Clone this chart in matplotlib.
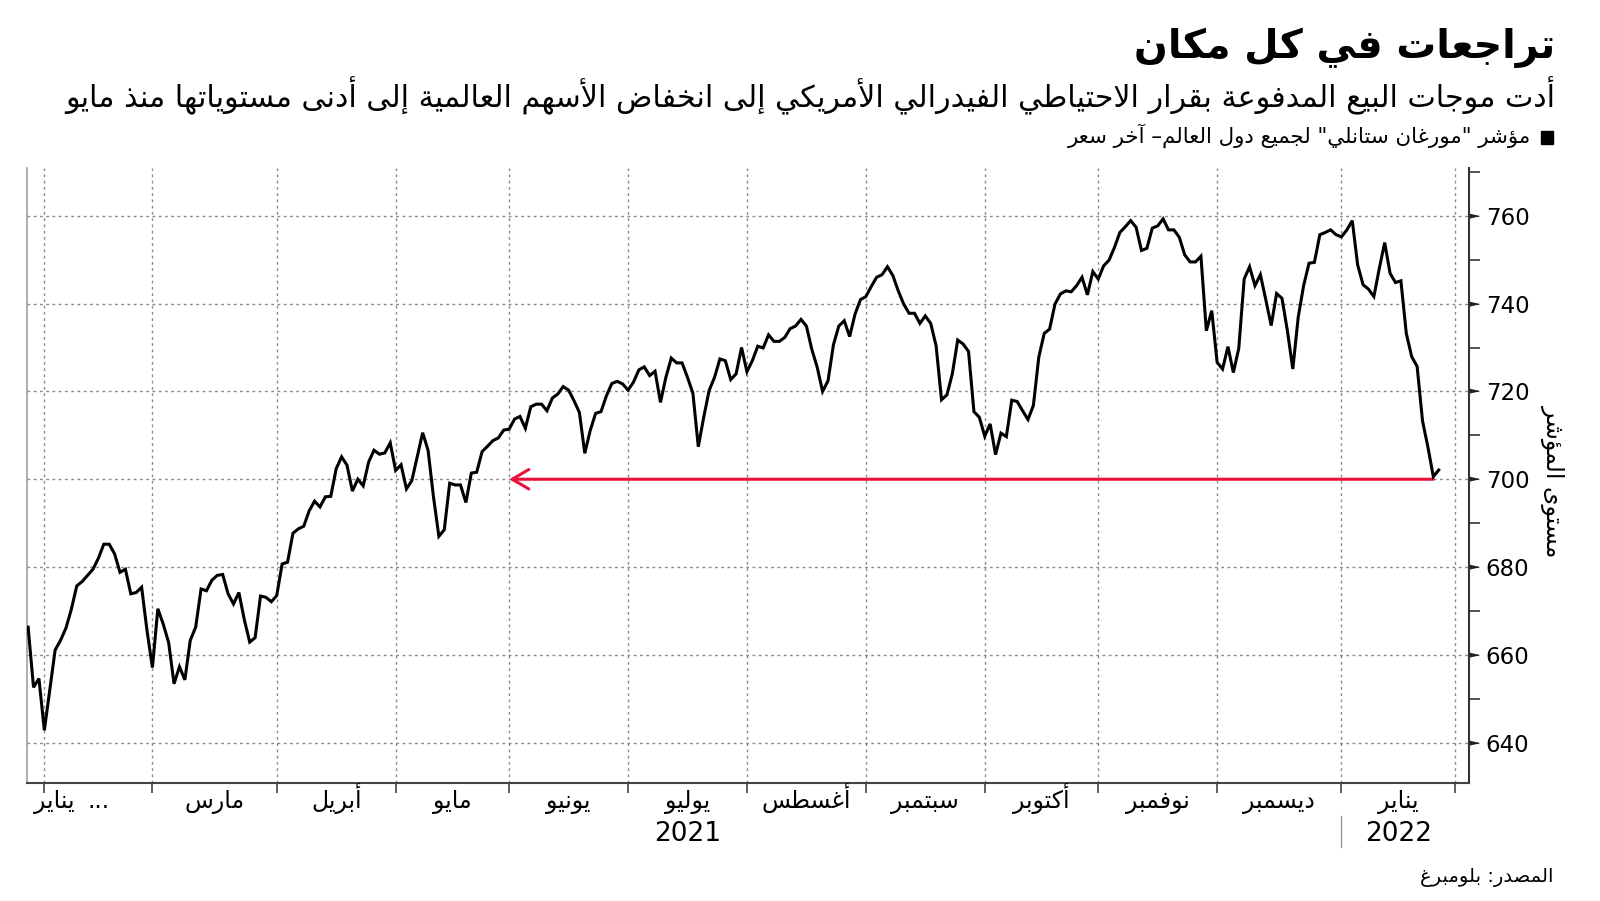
import numpy as np
import pandas as pd
import matplotlib
matplotlib.use("Agg")
import matplotlib.pyplot as plt
from matplotlib.patches import Rectangle
from matplotlib.lines import Line2D

# ---- data -------------------------------------------------------------
# MSCI All Country World index, daily close (business days from first_day)
first_day = "2021-01-27"
index_level = [
    666.3, 652.6, 654.6, 642.8, 652.0, 661.1, 663.3, 666.1, 670.4, 675.7,
    676.7, 678.1, 679.5, 682.0, 685.2, 685.2, 683.0, 678.8, 679.5, 673.9,
    674.2, 675.4, 665.5, 657.1, 670.5, 667.0, 662.8, 653.4, 657.3, 654.3,
    663.3, 666.3, 675.0, 674.6, 677.0, 678.1, 678.3, 673.9, 671.6, 674.2,
    668.0, 662.9, 663.9, 673.4, 673.1, 672.1, 673.5, 680.7, 681.1, 687.7,
    688.7, 689.3, 692.8, 695.0, 693.7, 696.0, 696.1, 702.4, 705.1, 703.2,
    697.3, 700.0, 698.5, 703.9, 706.6, 705.7, 706.0, 708.3, 702.0, 703.3,
    697.8, 699.7, 705.1, 710.6, 706.6, 696.0, 687.0, 688.5, 699.1, 698.7,
    698.7, 694.7, 701.4, 701.6, 706.3, 707.5, 708.8, 709.4, 711.2, 711.4,
    713.7, 714.3, 711.6, 716.5, 717.1, 717.1, 715.6, 718.5, 719.4, 721.1,
    720.3, 717.9, 715.2, 705.9, 711.1, 715.0, 715.4, 719.0, 721.8, 722.3,
    721.7, 720.3, 722.1, 724.9, 725.6, 723.6, 724.6, 717.5, 723.2, 727.6,
    726.5, 726.5, 723.2, 719.6, 707.4, 714.1, 720.2, 723.2, 727.4, 727.0,
    722.7, 724.0, 730.0, 724.5, 727.0, 730.3, 729.9, 732.9, 731.4, 731.4,
    732.3, 734.3, 734.9, 736.4, 734.9, 729.6, 725.5, 720.0, 722.4, 730.6,
    734.9, 736.1, 732.5, 737.6, 740.9, 741.6, 743.9, 746.0, 746.6, 748.4,
    746.4, 742.9, 739.9, 737.8, 737.8, 735.5, 737.2, 735.5, 730.4, 718.1,
    719.2, 724.0, 731.7, 730.8, 729.1, 715.4, 714.1, 709.8, 712.6, 705.6,
    710.5, 709.7, 718.0, 717.7, 715.6, 713.6, 716.8, 727.8, 733.2, 734.2,
    739.9, 742.2, 742.9, 742.7, 744.1, 746.0, 742.0, 747.3, 745.6, 748.6,
    749.9, 752.8, 756.2, 757.5, 758.9, 757.4, 752.1, 752.6, 757.2, 757.7,
    759.3, 756.8, 756.8, 755.1, 751.1, 749.5, 749.5, 750.8, 733.8, 738.4,
    726.6, 725.1, 730.2, 724.3, 729.8, 745.6, 748.4, 744.1, 746.6, 740.9,
    735.0, 742.3, 741.2, 733.8, 725.1, 736.9, 744.1, 749.2, 749.4, 755.7,
    756.2, 756.8, 755.7, 755.2, 756.8, 758.9, 748.8, 744.3, 743.3, 741.6,
    748.0, 753.9, 746.9, 744.8, 745.2, 733.2, 727.9, 725.7, 713.3, 707.3,
    700.6, 702.1,
]

month_starts = ["2021-02-01", "2021-03-01", "2021-04-01", "2021-05-01", "2021-06-01",
                "2021-07-01", "2021-08-01", "2021-09-01", "2021-10-01", "2021-11-01",
                "2021-12-01", "2022-01-01", "2022-02-01"]
month_labels = ["يناير", "...", "مارس", "أبريل", "مايو", "يونيو", "يوليو",
                "أغسطس", "سبتمبر", "أكتوبر", "نوفمبر", "ديسمبر", "يناير"]
year_labels = {"2021": "2021-07-01", "2022": "2022-01-01"}
y_ticks = [640, 660, 680, 700, 720, 740, 760]
y_minor = [650, 670, 690, 710, 730, 750, 770]

# arrow: back from the latest low to where the index last stood there
arrow_level = 700
arrow_back_to = "2021-06-01"

title = "تراجعات في كل مكان"
subtitle = ("أدت موجات البيع المدفوعة بقرار الاحتياطي الفيدرالي الأمريكي "
            "إلى انخفاض الأسهم العالمية إلى أدنى مستوياتها منذ مايو")
legend_text = 'مؤشر "مورغان ستانلي" لجميع دول العالم– آخر سعر'
y_label = "مستوى المؤشر"
source = "المصدر: بلومبرغ"

# ---- arabic shaping (matplotlib draws glyphs left to right, unshaped) --
ISO = {'ء': 0xFE80, 'آ': 0xFE81, 'أ': 0xFE83, 'ؤ': 0xFE85, 'إ': 0xFE87, 'ئ': 0xFE89,
       'ا': 0xFE8D, 'ب': 0xFE8F, 'ة': 0xFE93, 'ت': 0xFE95, 'ث': 0xFE99, 'ج': 0xFE9D,
       'ح': 0xFEA1, 'خ': 0xFEA5, 'د': 0xFEA9, 'ذ': 0xFEAB, 'ر': 0xFEAD, 'ز': 0xFEAF,
       'س': 0xFEB1, 'ش': 0xFEB5, 'ص': 0xFEB9, 'ض': 0xFEBD, 'ط': 0xFEC1, 'ظ': 0xFEC5,
       'ع': 0xFEC9, 'غ': 0xFECD, 'ف': 0xFED1, 'ق': 0xFED5, 'ك': 0xFED9, 'ل': 0xFEDD,
       'م': 0xFEE1, 'ن': 0xFEE5, 'ه': 0xFEE9, 'و': 0xFEED, 'ى': 0xFEEF, 'ي': 0xFEF1}
RIGHT_ONLY = set('آأؤإادذرزةوى')
LAM_ALEF = {'آ': 0xFEF5, 'أ': 0xFEF7, 'إ': 0xFEF9, 'ا': 0xFEFB}


def joins_next(c):
    return c in ISO and c not in RIGHT_ONLY and c != 'ء'


def joins_prev(c):
    return c in ISO and c != 'ء'


def ar(text):
    out = []
    prev = None
    i = 0
    while i < len(text):
        c = text[i]
        if c not in ISO:
            out.append(c)
            prev = None
            i += 1
            continue
        link_prev = prev is not None and joins_next(prev) and joins_prev(c)
        nxt = text[i + 1] if i + 1 < len(text) else None
        if c == 'ل' and nxt in LAM_ALEF:
            out.append(chr(LAM_ALEF[nxt] + (1 if link_prev else 0)))
            prev = 'ا'
            i += 2
            continue
        link_next = joins_next(c) and nxt is not None and joins_prev(nxt)
        base = ISO[c]
        if c == 'ء':
            form = base
        elif link_prev and link_next:
            form = base + 3
        elif link_prev:
            form = base + 1
        elif link_next:
            form = base + 2
        else:
            form = base
        out.append(chr(form))
        prev = c
        i += 1
    return ''.join(out)[::-1]


# ---- figure -------------------------------------------------------------
plt.rcParams['font.family'] = ['DejaVu Sans']

W, H = 1600, 901
fig = plt.figure(figsize=(W / 100, H / 100), dpi=100)
ax = fig.add_axes([26.5 / W, 1 - 782.6 / H, (1469 - 26.5) / W, (782.6 - 168.4) / H])

x = np.arange(len(index_level))
month_pos = np.busday_count(first_day, month_starts)

grid_style = dict(color="#8a8a8a", lw=1.0, linestyle=(0, (2, 2.5)), zorder=1)
for yv in y_ticks:
    ax.axhline(yv, **grid_style)
for xv in month_pos:
    ax.axvline(xv, **grid_style)

ax.plot(x, index_level, color="black", lw=2.2, zorder=4, solid_joinstyle="miter")

low_x = len(index_level) - 2
tip_x = np.busday_count(first_day, arrow_back_to)
ax.annotate("", xy=(tip_x, arrow_level), xytext=(low_x, arrow_level),
            arrowprops=dict(arrowstyle="->,head_length=1.2,head_width=0.7",
                            color="#e8123c", lw=2.2, shrinkA=0, shrinkB=0),
            zorder=3)

ax.set_xlim(-0.3, 266.6)
ax.set_ylim(630.9, 770.8)

# x axis: ticks at month boundaries, labels centred in each month
ax.set_xticks(month_pos)
ax.set_xticklabels([])
ax.tick_params(axis="x", direction="out", length=7, width=1.2, color="#444444")

lab_tr = ax.get_xaxis_transform()
mid = (month_pos[:-1] + month_pos[1:]) / 2
ax.text(1.0, -0.042, ar(month_labels[0]), transform=lab_tr, ha="left", va="baseline",
        fontsize=17)
for pos, lab in zip(mid, month_labels[1:]):
    ax.text(pos, -0.042, ar(lab), transform=lab_tr, ha="center", va="baseline",
            fontsize=17)
for yr, start in year_labels.items():
    i = month_starts.index(start)
    ax.text(mid[i], -0.062, yr, transform=lab_tr, ha="center", va="top", fontsize=19)
sep_x = np.busday_count(first_day, "2022-01-01")
ax.add_line(Line2D([sep_x, sep_x], [-0.054, -0.105], transform=lab_tr,
                   color="#999999", lw=1, clip_on=False))

# y axis on the right
ax.yaxis.tick_right()
ax.set_yticks(y_ticks)
ax.set_yticks(y_minor, minor=True)
ax.set_yticklabels([str(v) for v in y_ticks])
ax.tick_params(axis="y", which="major", length=0, pad=12, labelsize=16.5)
ax.tick_params(axis="y", which="minor", direction="out", length=8, width=1.2,
               color="#333333")
tri = [(0, -0.22), (0, 0.22), (1, 0)]
ax.plot([1.0] * len(y_ticks), y_ticks, transform=ax.get_yaxis_transform(),
        linestyle="none", marker=tri, markersize=14, color="#222222", clip_on=False)

ax.spines["top"].set_visible(False)
ax.spines["left"].set_color("#a0a0a0")
ax.spines["left"].set_linewidth(1.2)
ax.spines["right"].set_color("#333333")
ax.spines["right"].set_linewidth(1.5)
ax.spines["bottom"].set_color("#444444")
ax.spines["bottom"].set_linewidth(1.5)

fig.text(1553 / W, 1 - 481 / H, ar(y_label), rotation=-90, ha="center", va="center",
         fontsize=17)

# headline block
fig.text(1555 / W, 1 - 58 / H, ar(title), ha="right", va="baseline",
         fontsize=28.5, fontweight="bold")
fig.text(1555 / W, 1 - 107 / H, ar(subtitle), ha="right", va="baseline", fontsize=21.7)
fig.patches.append(Rectangle((1541 / W, 1 - 144 / H), 12 / W, 13 / H,
                             transform=fig.transFigure, color="black"))
fig.text(1531 / W, 1 - 143 / H, ar(legend_text), ha="right", va="baseline", fontsize=15.4)
fig.text(1553 / W, 1 - 882 / H, ar(source), ha="right", va="baseline", fontsize=14)

fig.savefig("out.png", dpi=100, facecolor="white")
